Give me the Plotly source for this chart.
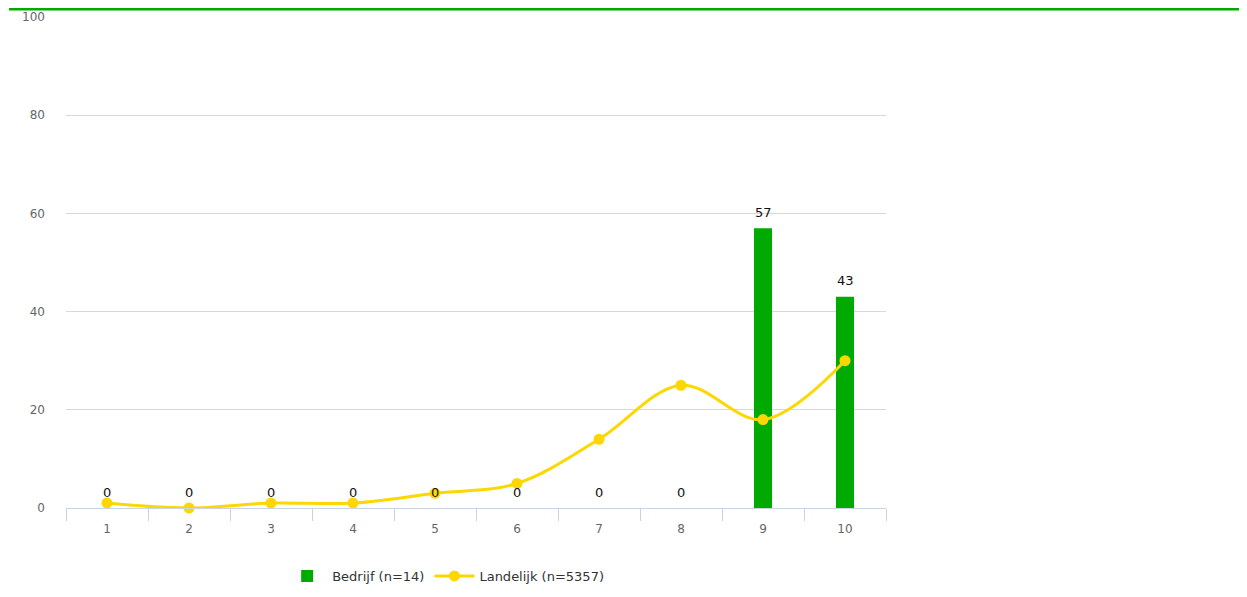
import plotly.graph_objects as go

categories = ["1", "2", "3", "4", "5", "6", "7", "8", "9", "10"]
bedrijf = [0, 0, 0, 0, 0, 0, 0, 0, 57, 43]
landelijk = [1, 0, 1, 1, 3, 5, 14, 25, 18, 30]
yticks = [0, 20, 40, 60, 80, 100]

fig = go.Figure()
fig.add_trace(go.Bar(
    x=categories, y=bedrijf, name="Bedrijf (n=14)",
    marker=dict(color="#00aa00", line=dict(width=0)),
    width=0.22,
))
fig.add_trace(go.Scatter(
    x=categories, y=landelijk, name="Landelijk (n=5357)",
    mode="lines+markers",
    line=dict(color="#FFD700", width=3, shape="spline", smoothing=1.0),
    marker=dict(color="#FFD700", size=11),
    cliponaxis=False,
))

# bar value labels, placed through the data axes (category index positions)
for idx, val in enumerate(bedrijf):
    fig.add_annotation(x=idx, y=val, xref="x", yref="y", text=str(val),
                       showarrow=False, yanchor="middle", yshift=16,
                       font=dict(color="#111111", size=13))

fig.add_shape(type="line", xref="paper", yref="paper",
              x0=-0.0695, x1=1.44, y0=1.0163, y1=1.0163,
              line=dict(color="#00aa00", width=3))

fig.update_layout(
    width=1239, height=589,
    margin=dict(l=58, r=361, t=9, b=89, autoexpand=False),
    plot_bgcolor="white", paper_bgcolor="white",
    font=dict(family="DejaVu Sans, Verdana, sans-serif", size=12, color="#666666"),
    showlegend=True,
    legend=dict(orientation="h", x=0.463, xanchor="center", yref="container",
                y=0.0357, yanchor="middle",
                font=dict(color="#333333", size=13), itemwidth=40),
    xaxis=dict(type="category", categoryorder="array", categoryarray=categories,
               range=[-0.5, len(categories) - 0.5],
               showgrid=False, showline=True, linecolor="#c8d4e3",
               linewidth=1, ticks="outside", tickson="boundaries", ticklen=12,
               tickcolor="#c8d4e3", ticklabelstandoff=10,
               tickfont=dict(color="#666666", size=12)),
    yaxis=dict(range=[0, 100], tickvals=yticks, showgrid=True, gridcolor="#d8d8d8",
               zeroline=False, showline=False, ticks="", ticklabelstandoff=20,
               tickfont=dict(color="#666666", size=12)),
)

fig.write_html("out.html")
